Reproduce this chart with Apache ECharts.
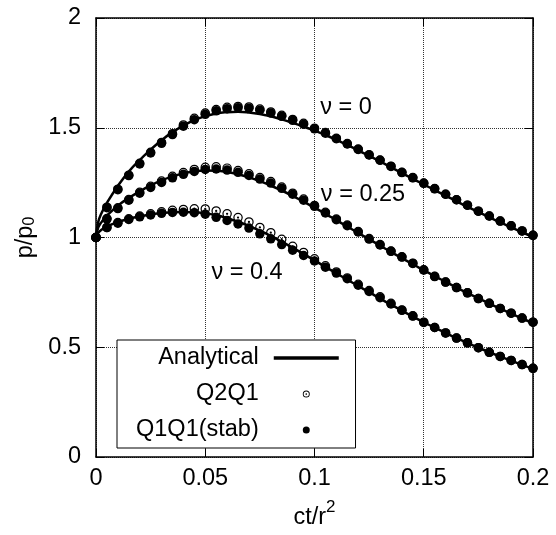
<!DOCTYPE html>
<html>
<head>
<meta charset="utf-8">
<script src="https://cdn.jsdelivr.net/npm/echarts@6/dist/echarts.min.js"></script>
<style>
  html, body { margin: 0; padding: 0; background: #fff; }
  #chart { width: 556px; height: 535px; }
</style>
</head>
<body>
<div id="chart"></div>
<script>
// 时间点 ct/r^2（数值解）
const tDots = [0, 0.005, 0.01, 0.015, 0.02, 0.025, 0.03, 0.035, 0.04, 0.045,
  0.05, 0.055, 0.06, 0.065, 0.07, 0.075, 0.08, 0.085, 0.09, 0.095,
  0.1, 0.105, 0.11, 0.115, 0.12, 0.125, 0.13, 0.135, 0.14, 0.145,
  0.15, 0.155, 0.16, 0.165, 0.17, 0.175, 0.18, 0.185, 0.19, 0.195, 0.2];

// 解析解取样点
const tLine = [0, 0.001, 0.0025, 0.005, 0.01, 0.015, 0.02, 0.025, 0.03, 0.035, 0.04, 0.045,
  0.05, 0.055, 0.06, 0.065, 0.07, 0.075, 0.08, 0.085, 0.09, 0.095,
  0.1, 0.105, 0.11, 0.115, 0.12, 0.125, 0.13, 0.135, 0.14, 0.145,
  0.15, 0.155, 0.16, 0.165, 0.17, 0.175, 0.18, 0.185, 0.19, 0.195, 0.2];

// 解析解 p/p0
const exact0 = [1.0, 1.07, 1.11, 1.158, 1.235, 1.30, 1.353, 1.40, 1.443, 1.48, 1.51, 1.535,
  1.553, 1.565, 1.571, 1.573, 1.570, 1.563, 1.552, 1.538, 1.522, 1.505,
  1.487, 1.467, 1.445, 1.421, 1.397, 1.372, 1.347, 1.320, 1.293, 1.267,
  1.242, 1.216, 1.191, 1.165, 1.140, 1.116, 1.092, 1.069, 1.046, 1.024, 1.003];
const exact025 = [1.0, 1.045, 1.07, 1.10, 1.145, 1.18, 1.21, 1.237, 1.26, 1.278, 1.292, 1.301,
  1.305, 1.304, 1.298, 1.288, 1.274, 1.257, 1.237, 1.214, 1.19, 1.163,
  1.136, 1.108, 1.079, 1.05, 1.021, 0.992, 0.963, 0.934, 0.906, 0.878,
  0.851, 0.824, 0.798, 0.772, 0.747, 0.723, 0.699, 0.676, 0.653, 0.631, 0.61];
const exact04 = [1.0, 1.02, 1.035, 1.05, 1.07, 1.085, 1.096, 1.105, 1.111, 1.115, 1.116, 1.115,
  1.11, 1.101, 1.088, 1.072, 1.053, 1.031, 1.007, 0.981, 0.954, 0.925,
  0.896, 0.866, 0.837, 0.808, 0.779, 0.751, 0.722, 0.694, 0.667, 0.64,
  0.614, 0.589, 0.565, 0.542, 0.52, 0.498, 0.477, 0.458, 0.439, 0.42, 0.403];

// Q2Q1
const q2q1_0 = [1.0, 1.138, 1.220, 1.284, 1.338, 1.388, 1.433, 1.473, 1.513, 1.543,
  1.567, 1.583, 1.593, 1.597, 1.595, 1.585, 1.572, 1.557, 1.538, 1.520,
  1.498, 1.478, 1.452, 1.428, 1.403, 1.377, 1.353, 1.325, 1.297, 1.273,
  1.248, 1.223, 1.197, 1.172, 1.147, 1.120, 1.098, 1.075, 1.053, 1.030, 1.010];
const q2q1_025 = [1.0, 1.086, 1.135, 1.173, 1.206, 1.233, 1.257, 1.279, 1.296, 1.310,
  1.320, 1.322, 1.316, 1.305, 1.290, 1.273, 1.255, 1.230, 1.202, 1.175,
  1.146, 1.115, 1.084, 1.057, 1.027, 0.995, 0.968, 0.938, 0.912, 0.883,
  0.853, 0.823, 0.797, 0.772, 0.748, 0.722, 0.700, 0.677, 0.655, 0.633, 0.614];
const q2q1_04 = [1.0, 1.046, 1.068, 1.085, 1.098, 1.108, 1.117, 1.124, 1.128, 1.131,
  1.130, 1.121, 1.108, 1.091, 1.071, 1.046, 1.022, 0.992, 0.960, 0.932,
  0.903, 0.871, 0.843, 0.816, 0.787, 0.758, 0.730, 0.700, 0.670, 0.643,
  0.614, 0.590, 0.565, 0.542, 0.520, 0.498, 0.477, 0.458, 0.440, 0.421, 0.404];

// Q1Q1(stab)
const q1q1_0 = [1.0, 1.136, 1.218, 1.282, 1.335, 1.385, 1.429, 1.469, 1.507, 1.537,
  1.561, 1.577, 1.587, 1.591, 1.589, 1.580, 1.567, 1.552, 1.534, 1.516,
  1.495, 1.475, 1.450, 1.426, 1.401, 1.376, 1.352, 1.324, 1.296, 1.272,
  1.247, 1.222, 1.197, 1.172, 1.147, 1.120, 1.098, 1.075, 1.053, 1.030, 1.010];
const q1q1_025 = [1.0, 1.084, 1.132, 1.170, 1.202, 1.228, 1.251, 1.272, 1.288, 1.301,
  1.310, 1.312, 1.307, 1.297, 1.283, 1.266, 1.248, 1.224, 1.197, 1.170,
  1.142, 1.112, 1.081, 1.054, 1.025, 0.993, 0.966, 0.937, 0.911, 0.882,
  0.852, 0.822, 0.797, 0.772, 0.748, 0.722, 0.700, 0.677, 0.655, 0.633, 0.614];
const q1q1_04 = [1.0, 1.045, 1.065, 1.082, 1.094, 1.103, 1.110, 1.114, 1.115, 1.113,
  1.106, 1.092, 1.078, 1.062, 1.043, 1.017, 0.994, 0.968, 0.942, 0.918,
  0.893, 0.865, 0.838, 0.812, 0.783, 0.754, 0.726, 0.697, 0.668, 0.642,
  0.613, 0.590, 0.565, 0.542, 0.520, 0.498, 0.477, 0.458, 0.440, 0.421, 0.404];

// 曲线标注 (数据坐标)
const curveNotes = [
  { name: 'ν = 0', value: [0.1144, 1.59] },
  { name: 'ν = 0.25', value: [0.1222, 1.194] },
  { name: 'ν = 0.4', value: [0.0691, 0.842] }
];

const FONT = 'Liberation Sans';
const FS = 23.5;
// 圆环 + 中心点
const ringDot = 'path://M0,10 A10,10 0 1,1 20,10 A10,10 0 1,1 0,10 Z ' +
  'M2.6,10 A7.4,7.4 0 1,0 17.4,10 A7.4,7.4 0 1,0 2.6,10 Z ' +
  'M7.6,10 A2.4,2.4 0 1,1 12.4,10 A2.4,2.4 0 1,1 7.6,10 Z';

function pairs(xs, ys) { return xs.map((x, i) => [x, ys[i]]); }

function lineSeries(ys) {
  return {
    name: 'Analytical', type: 'line', symbol: 'none', smooth: true,
    lineStyle: { color: '#000', width: 2.5 }, itemStyle: { color: '#000' },
    data: pairs(tLine, ys), z: 2
  };
}
function q2Series(ys) {
  return {
    name: 'Q2Q1', type: 'scatter', symbol: ringDot, symbolSize: 9.5,
    itemStyle: { color: '#000', opacity: 1 }, data: pairs(tDots, ys), z: 3
  };
}
function q1Series(ys) {
  return {
    name: 'Q1Q1(stab)', type: 'scatter', symbol: 'circle', symbolSize: 9.5,
    itemStyle: { color: '#000', opacity: 1 }, data: pairs(tDots, ys), z: 4
  };
}

const chart = echarts.init(document.getElementById('chart'));
const gridLine = { show: true, lineStyle: { type: 'dotted', color: '#333', width: 1 } };
const frame = { show: true, onZero: false, lineStyle: { color: '#000', width: 1.5 } };
const ticks = { show: true, inside: true, length: 8, lineStyle: { color: '#000', width: 1 } };

chart.setOption({
  animation: false,
  backgroundColor: '#fff',
  grid: { left: 96, right: 23, top: 18, bottom: 73 },
  xAxis: [{
    type: 'value', min: 0, max: 0.2, interval: 0.05,
    axisLine: frame, axisTick: ticks, splitLine: gridLine,
    axisLabel: { fontFamily: FONT, fontSize: FS, color: '#000', margin: 10 },
    name: '{a|ct/r}{s|2}', nameLocation: 'middle', nameGap: 42,
    nameTextStyle: {
      rich: {
        a: { fontFamily: FONT, fontSize: FS, color: '#000', verticalAlign: 'bottom' },
        s: { fontFamily: FONT, fontSize: 17, color: '#000', verticalAlign: 'top', padding: [0, 0, 14, 0] }
      }
    }
  }, {
    type: 'value', position: 'top', min: 0, max: 0.2, interval: 0.05,
    axisLine: frame, axisTick: ticks, splitLine: { show: false },
    axisLabel: { show: false }
  }],
  yAxis: [{
    type: 'value', min: 0, max: 2, interval: 0.5,
    axisLine: frame, axisTick: ticks, splitLine: gridLine,
    axisLabel: { fontFamily: FONT, fontSize: FS, color: '#000', margin: 15 },
    name: '{a|p/p}{s|0}', nameLocation: 'middle', nameGap: 54,
    nameTextStyle: {
      rich: {
        a: { fontFamily: FONT, fontSize: FS, color: '#000' },
        s: { fontFamily: FONT, fontSize: 16, color: '#000', verticalAlign: 'bottom' }
      }
    }
  }, {
    type: 'value', position: 'right', min: 0, max: 2, interval: 0.5,
    axisLine: frame, axisTick: ticks, splitLine: { show: false },
    axisLabel: { show: false }
  }],
  legend: {
    data: [
      { name: 'Analytical', lineStyle: { width: 3.5 }, itemStyle: { opacity: 0 } },
      { name: 'Q2Q1' },
      { name: 'Q1Q1(stab)' }
    ],
    orient: 'vertical', align: 'right', left: 117, top: 340,
    itemWidth: 65, itemHeight: 7, itemGap: 12,
    padding: [6, 15, 6, 19],
    backgroundColor: '#fff', borderColor: '#000', borderWidth: 1,
    selectedMode: false,
    formatter: n => '{t|' + n + '}',
    textStyle: {
      fontFamily: FONT, fontSize: FS, color: '#000',
      rich: { t: { fontFamily: FONT, fontSize: FS, color: '#000', padding: [0, 10, 0, 0] } }
    }
  },
  series: [
    lineSeries(exact0), lineSeries(exact025), lineSeries(exact04),
    q2Series(q2q1_0), q2Series(q2q1_025), q2Series(q2q1_04),
    q1Series(q1q1_0), q1Series(q1q1_025), q1Series(q1q1_04),
    {
      name: 'notes', type: 'scatter', symbolSize: 0, silent: true, z: 5,
      itemStyle: { opacity: 1 },
      label: { show: true, position: 'inside', formatter: '{b}', fontFamily: FONT, fontSize: FS, color: '#000' },
      data: curveNotes
    }
  ]
});
</script>
</body>
</html>
